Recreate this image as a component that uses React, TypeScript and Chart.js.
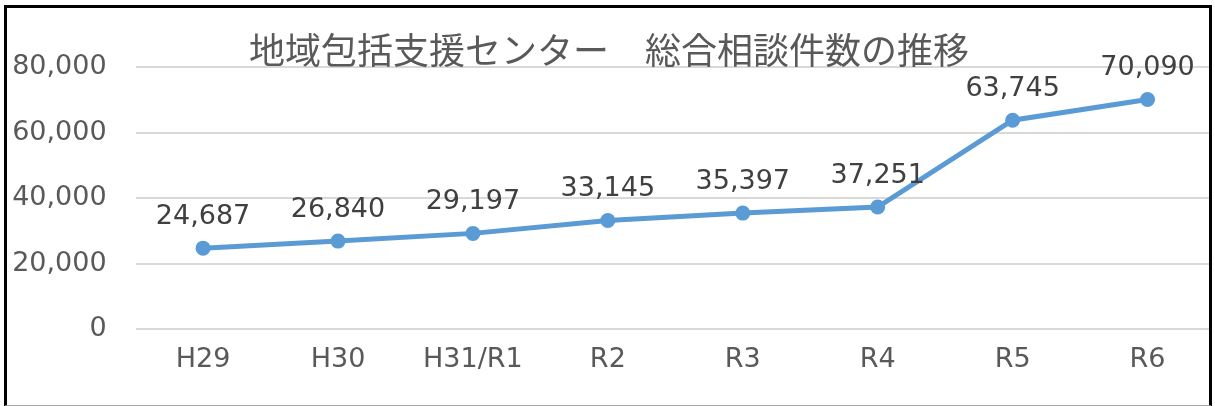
import React, { useEffect, useRef } from "react";
import { Chart, registerables } from "chart.js";

Chart.register(...registerables);

const titleText = "地域包括支援センター　総合相談件数の推移";
const categories = ["H29", "H30", "H31/R1", "R2", "R3", "R4", "R5", "R6"];
const consultations = [24687, 26840, 29197, 33145, 35397, 37251, 63745, 70090];
const yTicks = [0, 20000, 40000, 60000, 80000];

const LATIN = '"DejaVu Sans", "Noto Sans", sans-serif';
const CJK = '"Noto Sans CJK JP", "Noto Sans", sans-serif';

const fmt = (v: number) => v.toLocaleString("en-US");

const overlayPlugin = {
  id: "overlay",
  afterDatasetsDraw(chart: any) {
    const ctx = chart.ctx;
    ctx.save();
    // data labels
    const meta = chart.getDatasetMeta(0);
    ctx.font = `27px ${LATIN}`;
    ctx.fillStyle = "#404040";
    ctx.textAlign = "center";
    ctx.textBaseline = "middle";
    meta.data.forEach((pt: any, i: number) => {
      ctx.fillText(fmt(consultations[i]), pt.x, pt.y - 31);
    });
    // title
    ctx.font = `36px ${CJK}`;
    ctx.fillStyle = "#595959";
    ctx.fillText(titleText, chart.width / 2 + 1.5, 50);
    ctx.restore();
  },
};

export default function App() {
  const ref = useRef<HTMLCanvasElement>(null);
  useEffect(() => {
    document.body.style.margin = "0";
    const chart = new Chart(ref.current!, {
      type: "line",
      data: {
        labels: categories,
        datasets: [
          {
            data: consultations,
            borderColor: "#5B9BD5",
            backgroundColor: "#5B9BD5",
            borderWidth: 5,
            pointRadius: 7.5,
            pointHoverRadius: 7.5,
            pointBorderWidth: 0,
            tension: 0,
          },
        ],
      },
      options: {
        responsive: false,
        animation: false,
        layout: { autoPadding: false, padding: { top: 67, left: 0, right: 0, bottom: 0 } },
        plugins: {
          legend: { display: false },
          tooltip: { enabled: false },
          title: { display: false },
        },
        scales: {
          x: {
            offset: true,
            grid: { display: false, drawTicks: false },
            border: { display: false },
            ticks: {
              color: "#595959",
              font: { family: LATIN, size: 27 },
              padding: 15,
              maxRotation: 0,
              autoSkip: false,
            },
            afterFit(scale: any) {
              scale.height = 77;
              scale.paddingLeft = 0;
              scale.paddingRight = 0;
            },
          },
          y: {
            min: 0,
            max: 80000,
            afterBuildTicks(scale: any) {
              scale.ticks = yTicks.map((v) => ({ value: v }));
            },
            grid: { color: "#d9d9d9", lineWidth: 2, drawTicks: false },
            border: { display: false },
            ticks: {
              color: "#595959",
              font: { family: LATIN, size: 27 },
              padding: 29,
              callback: (v: any) => fmt(Number(v)),
            },
            afterFit(scale: any) {
              scale.width = 135.6;
            },
          },
        },
      },
      plugins: [overlayPlugin],
    });
    return () => chart.destroy();
  }, []);

  return (
    <div style={{ position: "fixed", left: 0, top: 0, width: 1215, height: 406, background: "#fff", overflow: "hidden" }}>
      <div style={{ position: "absolute", left: 0, top: 0, width: 1212, height: 406, overflow: "hidden" }}>
        <canvas ref={ref} width={1215} height={406} style={{ display: "block" }} />
      </div>
      <div
        style={{
          position: "absolute",
          left: 4,
          top: 5,
          width: 1208,
          height: 401,
          boxSizing: "border-box",
          borderLeft: "3px solid #000",
          borderTop: "3px solid #000",
          borderRight: "3px solid #000",
          borderBottom: "1px solid #a6a6a6",
          pointerEvents: "none",
        }}
      />
    </div>
  );
}
